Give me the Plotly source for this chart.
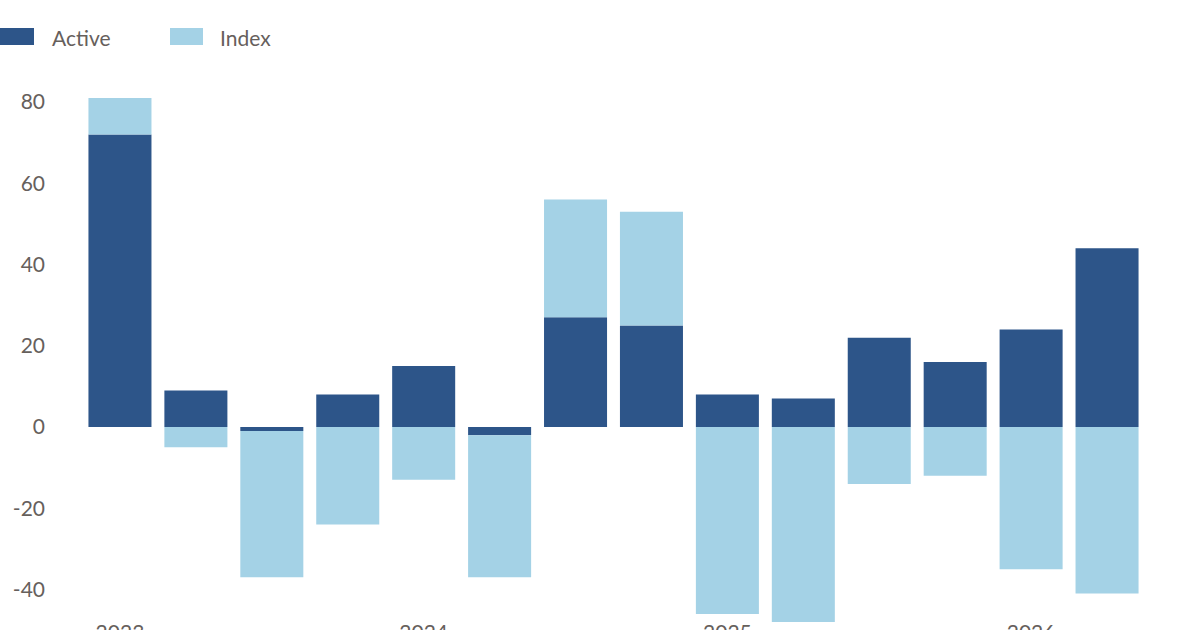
import plotly.graph_objects as go

quarters = ["2023 Q1", "2023 Q2", "2023 Q3", "2023 Q4",
            "2024 Q1", "2024 Q2", "2024 Q3", "2024 Q4",
            "2025 Q1", "2025 Q2", "2025 Q3", "2025 Q4",
            "2026 Q1", "2026 Q2"]
active = [72, 9, -1, 8, 15, -2, 27, 25, 8, 7, 22, 16, 24, 44]
index_ = [9, -5, -36, -24, -13, -35, 29, 28, -46, -48, -14, -12, -35, -41]
year_ticks = ["2023 Q1", "2024 Q1", "2025 Q1", "2026 Q1"]
year_labels = ["2023", "2024", "2025", "2026"]
y_ticks = [-40, -20, 0, 20, 40, 60, 80]
y_tick_labels = ["-40", "-20", "0", "20", "40", "60", "80"]

DARK = "#2d5589"
LIGHT = "#a4d2e6"
TXT = "#66605c"
FONT = "Lato"

W, H = 1200, 630
ml, mr, mt, mb = 82, 55, 90, 6
# pixel scale: 0 at y=427, 80 at y=102
y_top = (427 - mt) / 4.0625
y_bot = -((H - mb) - 427) / 4.0625

fig = go.Figure()
fig.add_trace(go.Bar(x=quarters, y=active, name="Active", marker_color=DARK,
                     marker_line_width=0))
fig.add_trace(go.Bar(x=quarters, y=index_, name="Index", marker_color=LIGHT,
                     marker_line_width=0))

fig.update_layout(
    width=W, height=H,
    barmode="relative", bargap=0.17,
    margin=dict(l=ml, r=mr, t=mt, b=mb, autoexpand=False),
    plot_bgcolor="white", paper_bgcolor="white",
    showlegend=False,
    font=dict(family=FONT, size=21, color=TXT),
    xaxis=dict(type="category", range=[-0.5, 13.5], tickvals=year_ticks,
               ticktext=year_labels, showgrid=False, zeroline=False,
               showline=False, ticks="", automargin=False,
               ticklabelstandoff=-6, tickfont=dict(size=21, color=TXT)),
    yaxis=dict(range=[y_bot, y_top], tickvals=y_ticks, ticktext=y_tick_labels,
               showgrid=False, zeroline=False, showline=False, ticks="",
               automargin=False, ticklabelstandoff=36,
               tickfont=dict(size=21, color=TXT)),
)

# Legend drawn manually (large swatches like the reference)
def px2paper_x(px):
    return (px - ml) / (W - ml - mr)

def py2paper_y(py):
    return (H - mb - py) / (H - mt - mb)

legend_items = [("Active", DARK, 0, 34, 50), ("Index", LIGHT, 170, 203, 218)]
for name, col, x0, x1, tx in legend_items:
    fig.add_shape(type="rect", xref="paper", yref="paper",
                  x0=px2paper_x(x0), x1=px2paper_x(x1),
                  y0=py2paper_y(45), y1=py2paper_y(28),
                  fillcolor=col, line_width=0)
    fig.add_annotation(xref="paper", yref="paper", x=px2paper_x(tx),
                       y=py2paper_y(37), text=name, showarrow=False,
                       xanchor="left", yanchor="middle",
                       font=dict(family=FONT, size=21, color=TXT))

fig.write_html("out.html")
